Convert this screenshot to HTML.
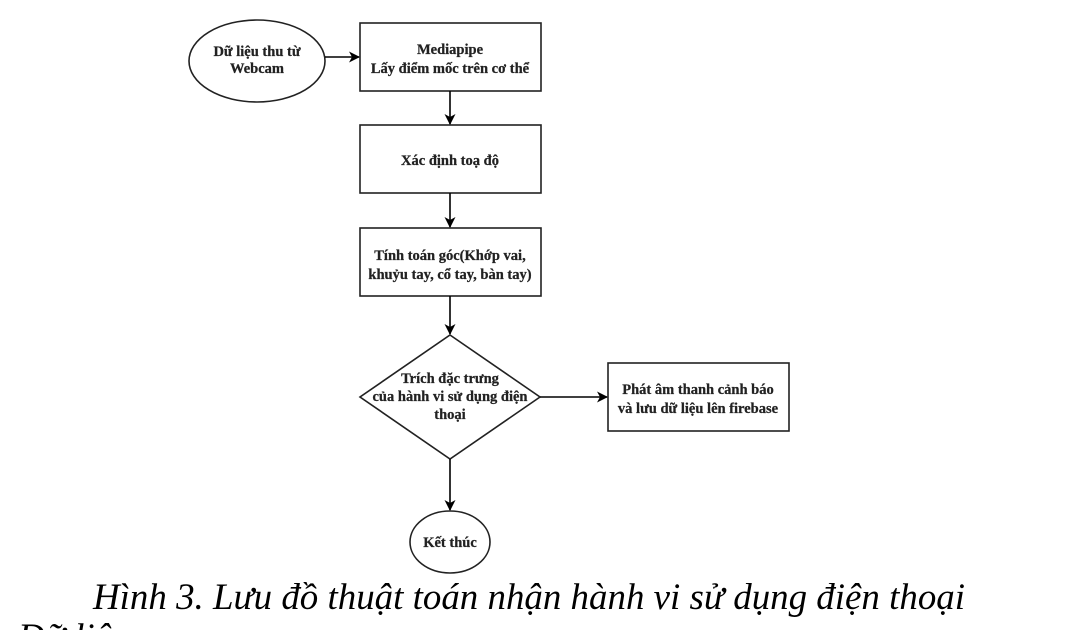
<!DOCTYPE html>
<html><head><meta charset="utf-8"><style>
html,body{margin:0;padding:0;background:#fff;width:1076px;height:630px;overflow:hidden}
svg{display:block}
.t{font-family:"Liberation Serif","DejaVu Serif",serif;font-weight:bold;font-size:14.5px;fill:#222;text-anchor:middle;stroke:#222;stroke-width:0.25}
.c{font-family:"Liberation Serif","DejaVu Serif",serif;font-style:italic;font-size:37px;fill:#000}
</style></head><body>
<svg width="1076" height="630" viewBox="0 0 1076 630">
<defs><marker id="a" markerWidth="11" markerHeight="11" refX="10" refY="5.5" orient="auto" markerUnits="userSpaceOnUse"><path d="M0,0 L11,5.5 L0,11 L3,5.5 Z" fill="#000"/></marker></defs>
<g fill="#fff" stroke="#222" stroke-width="1.6">
<ellipse cx="257" cy="61" rx="68" ry="41"/>
<rect x="360" y="23" width="181" height="68"/>
<rect x="360" y="125" width="181" height="68"/>
<rect x="360" y="228" width="181" height="68"/>
<polygon points="450,335 540,397 450,459 360,397"/>
<rect x="608" y="363" width="181" height="68"/>
<ellipse cx="450" cy="542" rx="40" ry="31"/>
</g>
<g stroke="#000" stroke-width="1.6" fill="none">
<line x1="325" y1="57" x2="359" y2="57" marker-end="url(#a)"/>
<line x1="450" y1="91" x2="450" y2="124" marker-end="url(#a)"/>
<line x1="450" y1="193" x2="450" y2="227" marker-end="url(#a)"/>
<line x1="450" y1="296" x2="450" y2="334" marker-end="url(#a)"/>
<line x1="540" y1="397" x2="607" y2="397" marker-end="url(#a)"/>
<line x1="450" y1="459" x2="450" y2="510" marker-end="url(#a)"/>
</g>
<text class="t" x="257" y="56">Dữ liệu thu từ</text>
<text class="t" x="257" y="73">Webcam</text>
<text class="t" x="450" y="54">Mediapipe</text>
<text class="t" x="450" y="73">Lấy điểm mốc trên cơ thể</text>
<text class="t" x="450" y="165">Xác định toạ độ</text>
<text class="t" x="450" y="260">Tính toán góc(Khớp vai,</text>
<text class="t" x="450" y="279">khuỷu tay, cổ tay, bàn tay)</text>
<text class="t" x="450" y="383">Trích đặc trưng</text>
<text class="t" x="450" y="401">của hành vi sử dụng điện</text>
<text class="t" x="450" y="419">thoại</text>
<text class="t" x="698" y="394">Phát âm thanh cảnh báo</text>
<text class="t" x="698" y="413">và lưu dữ liệu lên firebase</text>
<text class="t" x="450" y="547">Kết thúc</text>
<text class="c" x="93" y="609" textLength="872" lengthAdjust="spacingAndGlyphs">Hình 3. Lưu đồ thuật toán nhận hành vi sử dụng điện thoại</text>
<text class="c" x="18" y="649">Dữ liệu</text>
</svg>
</body></html>
